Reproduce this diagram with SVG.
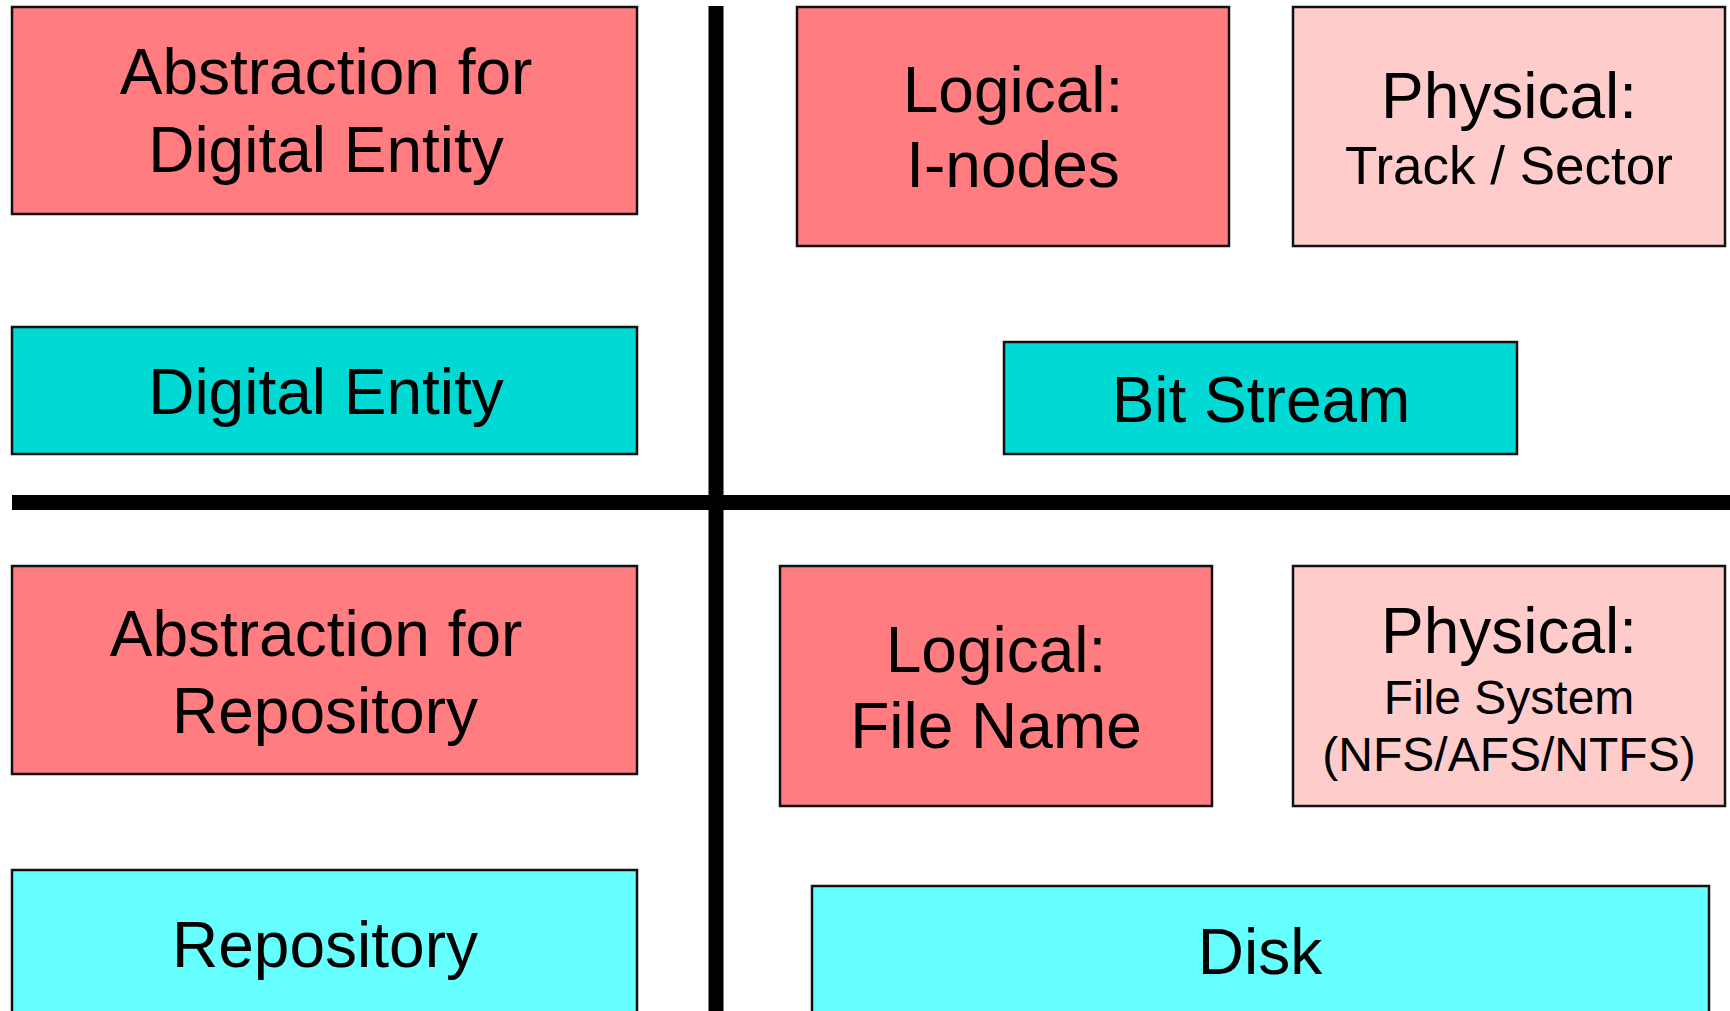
<svg xmlns="http://www.w3.org/2000/svg" width="1730" height="1011" viewBox="0 0 1730 1011">
  <style>
    .box { stroke: #111; stroke-width: 2.5; }
    .abstract { fill: #FF7C80; }
    .physical { fill: #FFCCCC; }
    .entity { fill: #00D9D4; }
    .store { fill: #66FFFF; }
    text { font-family: "Liberation Sans", Arial, sans-serif; fill: #000; text-anchor: middle; }
    .big { font-size: 64px; }
    .mid { font-size: 53px; }
    .small { font-size: 48px; }
    .divider { stroke: #000; stroke-width: 15; }
  </style>
  <rect width="1730" height="1011" fill="#fff"/>

  <!-- quadrant dividers -->
  <g id="dividers">
    <line class="divider" x1="716" y1="6" x2="716" y2="1011"/>
    <line class="divider" x1="12" y1="502.5" x2="1730" y2="502.5"/>
  </g>

  <!-- upper-left quadrant -->
  <g id="abstraction-digital-entity">
    <rect class="box abstract" x="12" y="7" width="625" height="207"/>
    <text class="big" x="326" y="94">Abstraction for</text>
    <text class="big" x="326" y="172">Digital Entity</text>
  </g>
  <g id="digital-entity">
    <rect class="box entity" x="12" y="327" width="625" height="127"/>
    <text class="big" x="326" y="414">Digital Entity</text>
  </g>

  <!-- upper-right quadrant -->
  <g id="logical-inodes">
    <rect class="box abstract" x="797" y="7" width="432" height="239"/>
    <text class="big" x="1013" y="112">Logical:</text>
    <text class="big" x="1013" y="187">I-nodes</text>
  </g>
  <g id="physical-track-sector">
    <rect class="box physical" x="1293" y="7" width="432" height="239"/>
    <text class="big" x="1509" y="118">Physical:</text>
    <text class="mid" x="1509" y="184">Track / Sector</text>
  </g>
  <g id="bit-stream">
    <rect class="box entity" x="1004" y="342" width="513" height="112"/>
    <text class="big" x="1261" y="422">Bit Stream</text>
  </g>

  <!-- lower-left quadrant -->
  <g id="abstraction-repository">
    <rect class="box abstract" x="12" y="566" width="625" height="208"/>
    <text class="big" x="316" y="656">Abstraction for</text>
    <text class="big" x="325" y="733">Repository</text>
  </g>
  <g id="repository">
    <rect class="box store" x="12" y="870" width="625" height="160"/>
    <text class="big" x="325" y="967">Repository</text>
  </g>

  <!-- lower-right quadrant -->
  <g id="logical-file-name">
    <rect class="box abstract" x="780" y="566" width="432" height="240"/>
    <text class="big" x="996" y="672">Logical:</text>
    <text class="big" x="996" y="748">File Name</text>
  </g>
  <g id="physical-file-system">
    <rect class="box physical" x="1293" y="566" width="432" height="240"/>
    <text class="big" x="1509" y="653">Physical:</text>
    <text class="small" x="1509" y="714">File System</text>
    <text class="small" x="1509" y="771">(NFS/AFS/NTFS)</text>
  </g>
  <g id="disk">
    <rect class="box store" x="812" y="886" width="897" height="150"/>
    <text class="big" x="1260" y="974">Disk</text>
  </g>
</svg>
